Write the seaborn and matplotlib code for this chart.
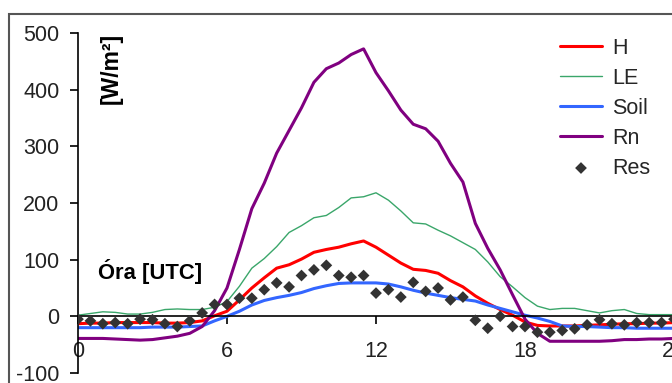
import matplotlib
matplotlib.use('Agg')
import matplotlib.pyplot as plt
import seaborn as sns
from matplotlib.patches import Rectangle

hours = [0, 0.5, 1, 1.5, 2, 2.5, 3, 3.5, 4, 4.5, 5, 5.5, 6, 6.5, 7, 7.5, 8, 8.5,
         9, 9.5, 10, 10.5, 11, 11.5, 12, 12.5, 13, 13.5, 14, 14.5, 15, 15.5,
         16, 16.5, 17, 17.5, 18, 18.5, 19, 19.5, 20, 20.5, 21, 21.5, 22, 22.5,
         23, 23.5, 24]

H = [-13, -12, -12, -11, -11, -11, -11, -12, -12, -11, -8, 1, 9, 29, 50, 68, 85, 91,
     101, 113, 118, 122, 128, 133, 122, 108, 94, 83, 81, 76, 63, 52, 36, 23, 12, 2,
     -10, -16, -17, -17, -17, -16, -15, -14, -13, -13, -12, -12, -11]
LE = [2, 5, 8, 7, 4, 4, 7, 12, 13, 12, 12, 16, 26, 53, 85, 102, 123, 148, 160, 174,
      178, 192, 209, 211, 218, 205, 186, 165, 163, 152, 142, 130, 118, 96, 70, 52,
      33, 18, 12, 14, 14, 10, 6, 10, 12, 5, 3, 3, 3]
Soil = [-20, -20, -20, -20, -20, -20, -19, -19, -19, -18, -17, -8, 0, 9, 20, 28, 33,
        37, 42, 49, 54, 58, 59, 59, 59, 57, 52, 46, 41, 37, 33, 30, 27, 20, 14, 8, 2,
        -3, -9, -17, -18, -18, -19, -20, -20, -21, -21, -21, -21]
Rn = [-39, -39, -39, -40, -41, -42, -41, -38, -35, -30, -18, 10, 50, 118, 190, 235,
      288, 328, 368, 413, 437, 447, 462, 472, 430, 398, 364, 339, 331, 309, 270, 237,
      164, 120, 82, 38, -5, -30, -44, -44, -44, -44, -44, -43, -41, -41, -40, -40, -39]
Res = [-5, -8, -13, -11, -13, -5, -6, -13, -18, -8, 6, 21, 21, 32, 32, 47, 59, 52, 72,
       82, 90, 72, 69, 72, 41, 47, 34, 60, 44, 50, 29, 34, -7, -21, 0, -18, -18, -28,
       -28, -25, -22, -15, -6, -13, -15, -11, -11, -11, -5]

xticks = [0, 6, 12, 18, 24]
yticks = [-100, 0, 100, 200, 300, 400, 500]

sns.set_style('white')
plt.rcParams['font.family'] = ['Liberation Sans', 'DejaVu Sans']

W, Hh = 672, 383
fig = plt.figure(figsize=(W / 100, Hh / 100), dpi=100)
ax = fig.add_axes([78 / W, 10 / Hh, 596 / W, 340 / Hh])

sns.lineplot(x=hours, y=H, ax=ax, color='#ff0000', lw=2.2, label='H')
sns.lineplot(x=hours, y=LE, ax=ax, color='#3aa66a', lw=1.0, label='LE')
sns.lineplot(x=hours, y=Soil, ax=ax, color='#3366ff', lw=2.2, label='Soil')
sns.lineplot(x=hours, y=Rn, ax=ax, color='#800080', lw=2.2, label='Rn')
sns.scatterplot(x=hours, y=Res, ax=ax, marker='D', s=36, color='#333333',
                edgecolor='none', label='Res', zorder=5)

ax.set_xlim(0, 24)
ax.set_ylim(-100, 500)
ax.set_xticks(xticks)
ax.set_yticks(yticks)
ax.set_xticklabels([str(v) for v in xticks])
ax.set_yticklabels([str(v) for v in yticks])

for s in ['top', 'right']:
    ax.spines[s].set_visible(False)
ax.spines['bottom'].set_position(('data', 0))
ax.spines['bottom'].set_color('black')
ax.spines['bottom'].set_linewidth(1.2)
ax.spines['left'].set_color('black')
ax.spines['left'].set_linewidth(1.2)

ax.tick_params(axis='x', bottom=True, direction='out', length=6, width=1.2,
               pad=12, labelsize=15.5, labelcolor='#222222', color='black')
ax.tick_params(axis='y', left=True, direction='out', length=6, width=1.2,
               pad=7.5, labelsize=15.5, labelcolor='#222222', color='black')
ax.set_xlabel('')
ax.set_ylabel('')

handles, labels = ax.get_legend_handles_labels()
ax.legend(handles, labels, loc='upper left', bbox_to_anchor=(560 / W, 1 - 37.5 / Hh),
          bbox_transform=fig.transFigure, frameon=False, fontsize=15.5,
          handlelength=1.95, handletextpad=0.47, labelspacing=0.42,
          borderpad=0, borderaxespad=0, scatterpoints=1)

fig.text(111 / W, 1 - 68 / Hh, '[W/m²]', rotation=90, fontweight='bold',
         fontsize=16.5, ha='center', va='center', color='black')
fig.text(98 / W, 1 - 271.7 / Hh, 'Óra [UTC]', fontweight='bold',
         fontsize=15.8, ha='left', va='center', color='black')

fig.add_artist(Rectangle((9 / W, -0.05), 1.0, (Hh - 14) / Hh + 0.05,
                         transform=fig.transFigure, fill=False,
                         edgecolor='#555555', lw=1.5, clip_on=False))

fig.savefig('out.png', dpi=100)
